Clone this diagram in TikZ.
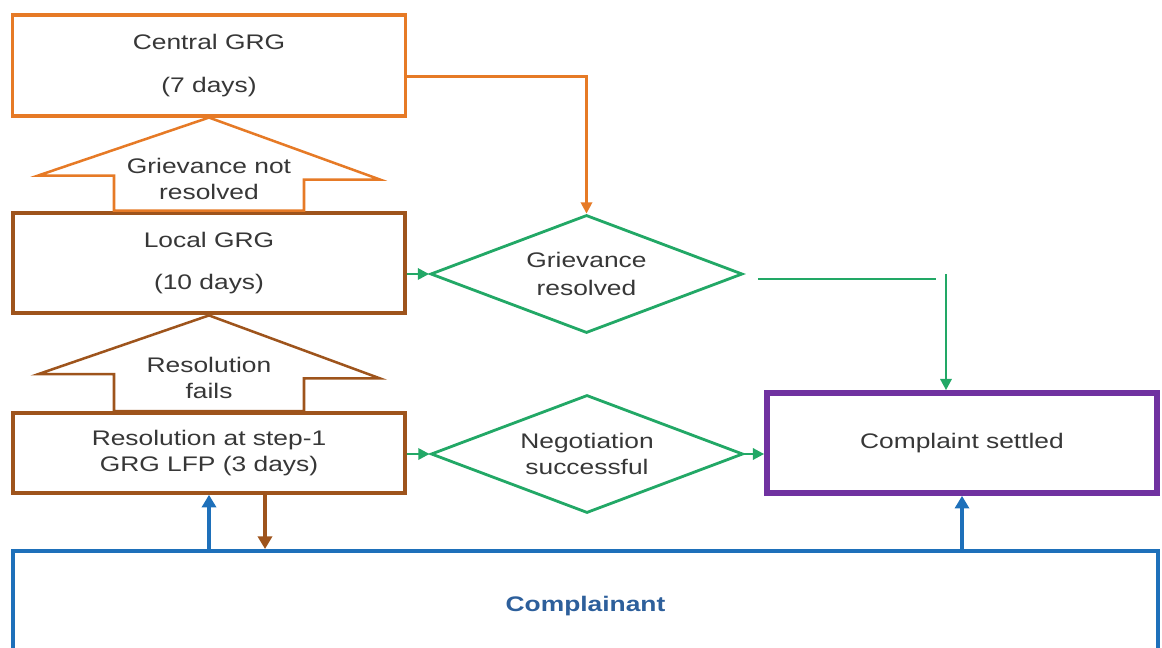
\documentclass[tikz,border=0pt]{standalone}
\usepackage{fontspec}
\setmainfont{Liberation Sans}[FakeStretch=1.25]
\usetikzlibrary{arrows.meta,positioning,calc,shapes.geometric}
\definecolor{grgOrange}{RGB}{230,122,38}
\definecolor{grgBrown}{RGB}{158,84,28}
\definecolor{grgGreen}{RGB}{34,168,102}
\definecolor{grgBlue}{RGB}{30,112,186}
\definecolor{grgPurple}{RGB}{112,50,160}
\definecolor{grgText}{RGB}{55,55,55}
\definecolor{compText}{RGB}{45,95,155}

\begin{document}
\begin{tikzpicture}[x=0.025cm, y=-0.025cm,
    every node/.style={font=\fontsize{15}{18}\selectfont, text=grgText, align=center, inner sep=0pt},
    grgbox/.style={draw, fill=white, minimum width=9.8cm},
    decision/.style={diamond, draw=grgGreen, line width=2pt, shape aspect=2.65, minimum width=7.8cm, minimum height=2.95cm},
    blockarrow/.style={line width=1.8pt, fill=white, line join=miter},
    flow/.style={line width=1.8pt, -{Triangle[length=8pt,width=8pt]}},
    up/.style={grgBlue, line width=2.4pt, -{Triangle[length=9pt,width=10pt]}}]
  \useasboundingbox (0,0) rectangle (1162,648);
  % boxes on the left
  \node[grgbox, draw=grgOrange, line width=2.2pt, minimum height=2.525cm] (central) at (209,65.5)
    {Central GRG\\[12.5pt](7 days)};
  \node[grgbox, draw=grgBrown, line width=3.4pt, minimum height=2.5cm] (local) at (209,263)
    {Local GRG\\[12pt](10 days)};
  \node[grgbox, draw=grgBrown, line width=2.5pt, minimum height=2cm] (resol) at (209,453)
    {Resolution at step-1\\GRG LFP (3 days)};
  % the two decisions and the end
  \node[decision] (grres) at (586.5,274) {Grievance\\[2pt]resolved};
  \node[decision] (nego) at (587,454) {Negotiation\\successful};
  \node[draw=grgPurple, line width=4pt, minimum width=9.75cm, minimum height=2.5cm] (settled) at (962,443)
    {Complaint settled};
  \node[draw=grgBlue, line width=2.8pt, minimum width=28.625cm, minimum height=2.75cm,
    font=\fontsize{15}{18}\selectfont\bfseries, text=compText] (comp) at (585.5,606) {Complainant};
  % escalation arrows
  \draw[blockarrow, draw=grgOrange] (central.south) -- ++(171,62) -- ++(-76,0) -- ($(local.north)+(95,0)$)
    -- ($(local.north)+(-95,0)$) -- ++(0,-35) -- ++(-76,0) -- cycle;
  \node (arNot) at (209,179) {Grievance not\\resolved};
  \draw[blockarrow, draw=grgBrown] (local.south) -- ++(171,63) -- ++(-76,0) -- ($(resol.north)+(95,0)$)
    -- ($(resol.north)+(-95,0)$) -- ++(0,-37) -- ++(-76,0) -- cycle;
  \node (arFail) at (209,378) {Resolution\\fails};
  % connectors
  \draw[flow, grgOrange] ($(central.east)+(0,11)$) -| (grres.north);
  \draw[flow, grgGreen] (local.east |- grres.west) -- (grres.west);
  \draw[flow, grgGreen] (resol.east |- nego.west) -- (nego.west);
  \draw[flow, grgGreen] (nego.east) -- (settled.west |- nego.east);
  \coordinate (grEnd) at (936,279);
  \coordinate (gvTop) at (946,274);
  \draw[grgGreen, line width=1.8pt] ($(grres.east)+(14,5)$) -- (grEnd);
  \draw[flow, grgGreen] (gvTop) -- (settled.north -| gvTop);
  \draw[up] (resol.south |- comp.north) -- (resol.south);
  \coordinate (dnTop) at ($(resol.south)+(56,0)$);
  \draw[grgBrown, line width=2.4pt, -{Triangle[length=9pt,width=10pt]}] (dnTop) -- (dnTop |- comp.north);
  \draw[up] (settled.south |- comp.north) -- (settled.south);
\end{tikzpicture}
\end{document}
